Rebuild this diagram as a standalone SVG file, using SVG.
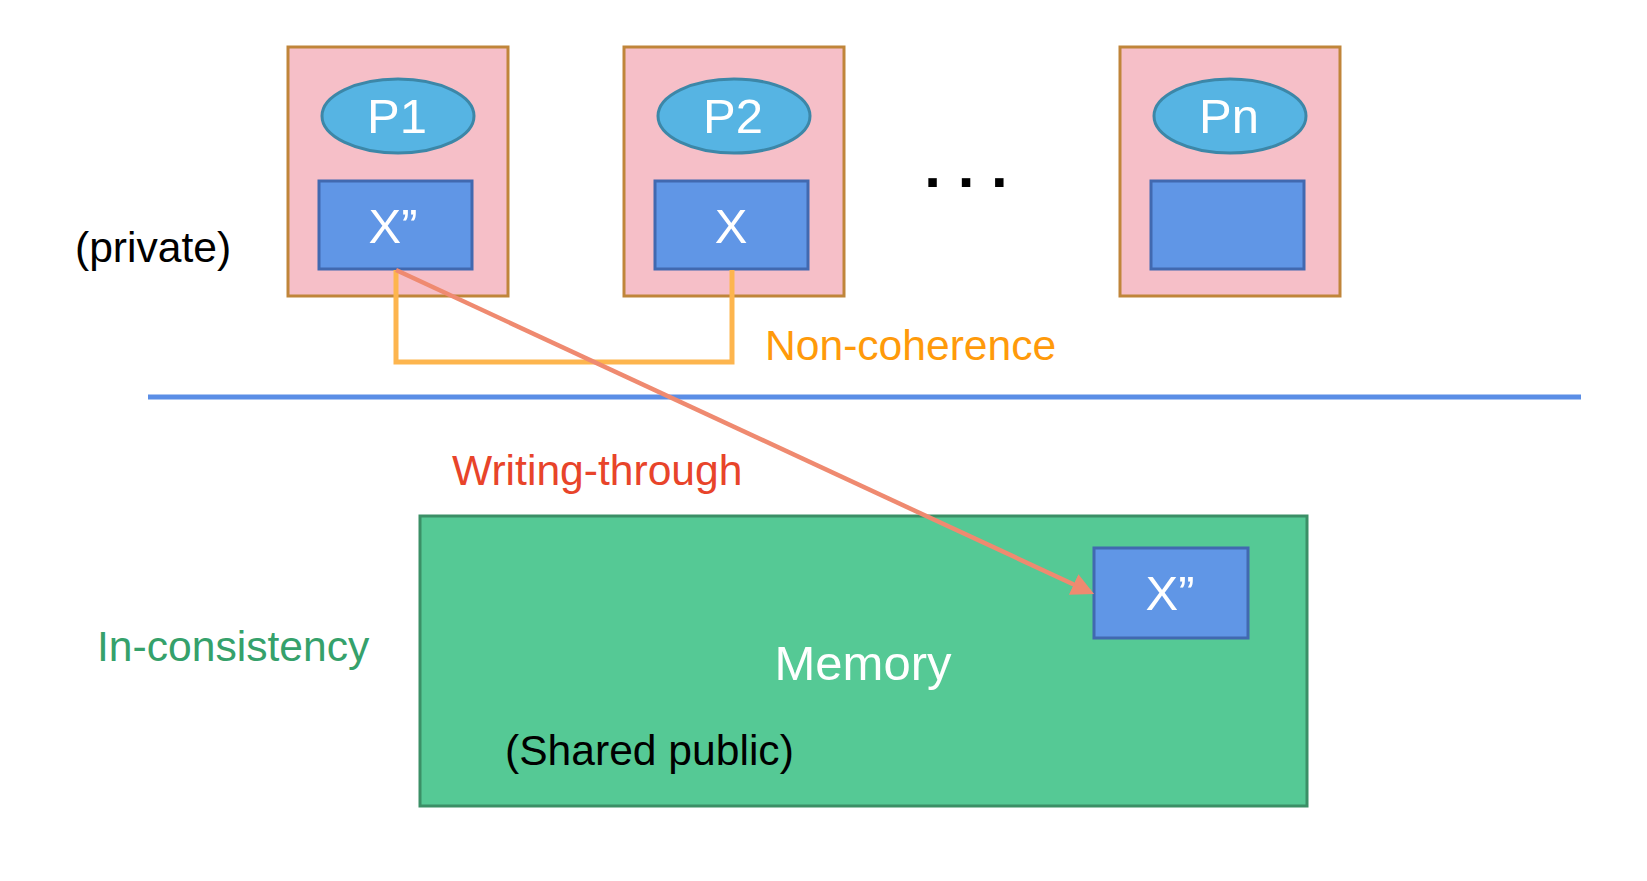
<svg xmlns="http://www.w3.org/2000/svg" width="1647" height="881" viewBox="0 0 1647 881">
<defs>
<style>
.box{fill:#f6bfc8;stroke:#c0853a;stroke-width:3}
.proc{fill:#56b4e3;stroke:#3c87a8;stroke-width:3}
.cache{fill:#6096e6;stroke:#4169b0;stroke-width:3}
.w{font-family:"Liberation Sans",Arial,sans-serif;fill:#ffffff;text-anchor:middle}
.lbl{font-family:"Liberation Sans",Arial,sans-serif;font-size:42.6px}
</style>
<marker id="ah" markerWidth="5" markerHeight="5" refX="4" refY="2.5" orient="auto" markerUnits="strokeWidth">
<path d="M0,0 L5,2.5 L0,5 Z" fill="#ef8a70"/>
</marker>
</defs>
<rect width="1647" height="881" fill="#ffffff"/>

<g id="p1">
<rect class="box" x="288" y="47" width="220" height="249"/>
<ellipse class="proc" cx="398" cy="116" rx="76" ry="37"/>
<text class="w" x="397" y="133" font-size="49">P1</text>
<rect class="cache" x="319" y="181" width="153" height="88"/>
<text class="w" x="393" y="243" font-size="49">X”</text>
</g>

<g id="p2">
<rect class="box" x="624" y="47" width="220" height="249"/>
<ellipse class="proc" cx="734" cy="116" rx="76" ry="37"/>
<text class="w" x="733" y="133" font-size="49">P2</text>
<rect class="cache" x="655" y="181" width="153" height="88"/>
<text class="w" x="731" y="243" font-size="49">X</text>
</g>

<g id="dots">
<text x="966" y="187" font-family="Liberation Sans,Arial,sans-serif" font-weight="bold" font-size="60" text-anchor="middle" fill="#000000">. . .</text>
</g>

<g id="pn">
<rect class="box" x="1120" y="47" width="220" height="249"/>
<ellipse class="proc" cx="1230" cy="116" rx="76" ry="37"/>
<text class="w" x="1229" y="133" font-size="49">Pn</text>
<rect class="cache" x="1151" y="181" width="153" height="88"/>
</g>

<g id="private-label">
<text class="lbl" x="75" y="262" fill="#000000">(private)</text>
</g>

<g id="divider">
<line x1="148" y1="397" x2="1581" y2="397" stroke="#5b8ee6" stroke-width="5"/>
</g>

<g id="memory">
<rect x="420" y="516" width="887" height="290" fill="#55c995" stroke="#3b8f66" stroke-width="3"/>
<text class="w" x="863" y="680" font-size="49">Memory</text>
<text class="lbl" x="505" y="765" fill="#000000">(Shared public)</text>
<rect class="cache" x="1094" y="548" width="154" height="90"/>
<text class="w" x="1170" y="610" font-size="49">X”</text>
</g>

<g id="connectors">
<polyline points="396,270 396,362 732,362 732,270" fill="none" stroke="#fdb54e" stroke-width="5"/>
<line x1="396" y1="270" x2="1090" y2="592" stroke="#ef8a70" stroke-width="4.5" marker-end="url(#ah)"/>
</g>

<g id="labels">
<text class="lbl" x="765" y="360" fill="#ff9a0a">Non-coherence</text>
<text class="lbl" x="452" y="485" fill="#e8442a">Writing-through</text>
<text class="lbl" x="97" y="661" fill="#35a16b">In-consistency</text>
</g>
</svg>
